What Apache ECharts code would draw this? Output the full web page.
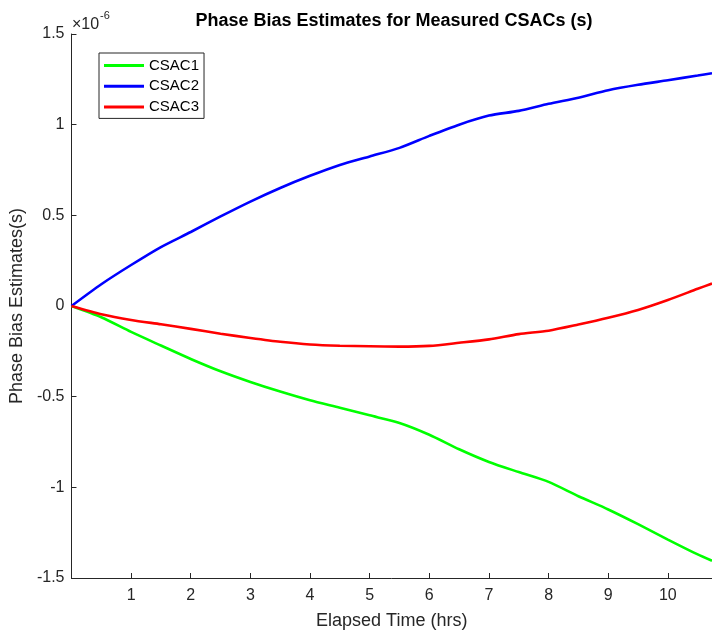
<!DOCTYPE html>
<html>
<head>
<meta charset="utf-8">
<title>Phase Bias Estimates for Measured CSACs</title>
<script src="https://cdn.jsdelivr.net/npm/echarts@6/dist/echarts.min.js"></script>
<style>
  html, body { margin: 0; padding: 0; background: #ffffff; }
  #chart { width: 712px; height: 635px; }
</style>
</head>
<body>
<div id="chart"></div>
<script>
// Elapsed time samples (hours)
const hours = [0, 0.5, 1, 1.5, 2, 2.5, 3, 3.5, 4, 4.5, 5, 5.5, 6, 6.5, 7, 7.5, 8, 8.5, 9, 9.5, 10, 10.5, 10.74];

// Phase bias estimates, in units of 1e-6 s
const csac1 = [0, -0.062, -0.143, -0.218, -0.292, -0.360, -0.419, -0.472, -0.520, -0.561, -0.603, -0.645,
               -0.710, -0.790, -0.860, -0.916, -0.970, -1.049, -1.122, -1.203, -1.288, -1.370, -1.405];
const csac2 = [0, 0.120, 0.226, 0.325, 0.408, 0.494, 0.576, 0.651, 0.718, 0.778, 0.825, 0.872,
               0.938, 1.000, 1.050, 1.076, 1.115, 1.149, 1.190, 1.220, 1.245, 1.271, 1.284];
const csac3 = [0, -0.045, -0.077, -0.101, -0.126, -0.153, -0.176, -0.197, -0.212, -0.219, -0.222, -0.224,
               -0.220, -0.203, -0.184, -0.155, -0.136, -0.102, -0.065, -0.022, 0.033, 0.095, 0.124];

const seriesNames = ['CSAC1', 'CSAC2', 'CSAC3'];
const xTicks = [1, 2, 3, 4, 5, 6, 7, 8, 9, 10];
const yTicks = [-1.5, -1, -0.5, 0, 0.5, 1, 1.5];

const FONT = 'Arial, "Liberation Sans", Helvetica, sans-serif';
const AXIS_COLOR = '#262626';

const pairs = vals => hours.map((h, i) => [h, vals[i]]);

const chart = echarts.init(document.getElementById('chart'), null, { renderer: 'canvas' });

const lineSeries = (name, vals, color) => ({
  name: name,
  type: 'line',
  data: pairs(vals),
  showSymbol: false,
  smooth: 0.25,
  lineStyle: { color: color, width: 2.6 },
  itemStyle: { color: color },
  emphasis: { disabled: true },
  animation: false
});

chart.setOption({
  animation: false,
  backgroundColor: '#ffffff',
  textStyle: { fontFamily: FONT },
  grid: { left: 69.5, right: 0, top: 34, bottom: 53, containLabel: false },
  graphic: [
    {
      type: 'text', x: 394, y: 21,
      style: {
        text: 'Phase Bias Estimates for Measured CSACs (s)',
        font: 'bold 18px ' + FONT, fill: '#000000',
        textAlign: 'center', textVerticalAlign: 'middle'
      }
    },
    {
      type: 'text', x: 72, y: 25,
      style: {
        text: '\u00d710', font: '16px ' + FONT, fill: AXIS_COLOR,
        textAlign: 'left', textVerticalAlign: 'middle'
      }
    },
    {
      type: 'text', x: 100, y: 16,
      style: {
        text: '-6', font: '11px ' + FONT, fill: AXIS_COLOR,
        textAlign: 'left', textVerticalAlign: 'middle'
      }
    }
  ],
  legend: {
    data: seriesNames,
    orient: 'vertical',
    left: 99, top: 53,
    padding: [4, 5, 3, 5],
    itemGap: 3.7,
    itemWidth: 40, itemHeight: 3,
    icon: 'rect',
    backgroundColor: '#ffffff',
    borderColor: AXIS_COLOR, borderWidth: 1,
    textStyle: { fontSize: 15, lineHeight: 17, color: '#000000', fontFamily: FONT },
    selectedMode: false
  },
  xAxis: {
    type: 'value',
    min: 0, max: 10.74,
    interval: 1,
    name: 'Elapsed Time (hrs)',
    nameLocation: 'middle',
    nameGap: 34,
    nameTextStyle: { fontSize: 18, color: AXIS_COLOR, fontFamily: FONT },
    axisLine: { show: true, onZero: false, lineStyle: { color: AXIS_COLOR, width: 1 } },
    axisTick: { show: true, inside: true, length: 5, customValues: xTicks, lineStyle: { color: AXIS_COLOR } },
    axisLabel: { show: true, customValues: xTicks, margin: 10, fontSize: 16, color: AXIS_COLOR, fontFamily: FONT },
    splitLine: { show: false }
  },
  yAxis: {
    type: 'value',
    min: -1.5, max: 1.5,
    interval: 0.5,
    name: 'Phase Bias Estimates(s)',
    nameLocation: 'middle',
    nameGap: 38,
    nameTextStyle: { fontSize: 18, color: AXIS_COLOR, fontFamily: FONT },
    axisLine: { show: true, onZero: false, lineStyle: { color: AXIS_COLOR, width: 1 } },
    axisTick: { show: true, inside: true, length: 5, customValues: yTicks, lineStyle: { color: AXIS_COLOR } },
    axisLabel: {
      show: true, customValues: yTicks, margin: 7, fontSize: 16, color: AXIS_COLOR, fontFamily: FONT,
      formatter: v => String(v)
    },
    splitLine: { show: false }
  },
  series: [
    lineSeries(seriesNames[0], csac1, '#00ff00'),
    lineSeries(seriesNames[1], csac2, '#0000ff'),
    lineSeries(seriesNames[2], csac3, '#ff0000')
  ]
});
</script>
</body>
</html>
